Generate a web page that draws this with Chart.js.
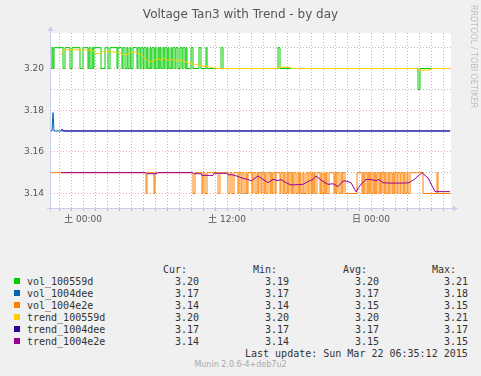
<!DOCTYPE html>
<html>
<head>
<meta charset="utf-8">
<script src="https://cdn.jsdelivr.net/npm/chart.js@4.4.1/dist/chart.umd.min.js"></script>
<style>
html,body{margin:0;padding:0;background:#f0f0f0;}
#wrap{position:relative;width:481px;height:376px;overflow:hidden;background:#f0f0f0;}
#c{position:absolute;left:0;top:0;}
.tx{position:absolute;white-space:pre;}
.mono{font-family:'DejaVu Sans Mono',monospace;font-size:10px;line-height:12px;color:#333;}
#title{left:0;width:481px;top:6px;text-align:center;font-family:'DejaVu Sans';font-size:12px;line-height:16px;color:#555;}
#wm{left:468px;top:5px;writing-mode:vertical-rl;font-family:'DejaVu Sans';font-size:8px;line-height:10px;color:#bdbdbd;}
#foot{left:0;width:481px;text-align:center;top:360px;font-family:'DejaVu Sans';font-size:8px;line-height:10px;color:#aaa;}
.sq{position:absolute;width:6px;height:6px;}
</style>
</head>
<body>
<div id="wrap">
<canvas id="c" width="481" height="240"></canvas>
<div id="title" class="tx">Voltage Tan3 with Trend - by day</div>
<div id="wm" class="tx">RRDTOOL / TOBI OETIKER</div>
<div id="foot" class="tx">Munin 2.0.6-4+deb7u2</div>
</div>
<script>
// time in minutes since Sat 00:00
const xTickValues = [0, 720, 1440];
const xTickLabels = ['土 00:00', '土 12:00', '日 00:00'];
const yTickValues = [3.14, 3.16, 3.18, 3.20];
const yTickLabels = ['3.14', '3.16', '3.18', '3.20'];
const yMinorValues = [3.15, 3.17, 3.19, 3.21];

const seriesNames = ['vol_100559d','vol_1004dee','vol_1004e2e','trend_100559d','trend_1004dee','trend_1004e2e'];
const seriesColors = ['#00cc00','#0066b3','#ff8000','#ffcc00','#330099','#990099'];
const curVals = ['3.20','3.17','3.14','3.20','3.17','3.14'];
const minVals = ['3.19','3.17','3.14','3.20','3.17','3.14'];
const avgVals = ['3.20','3.17','3.15','3.20','3.17','3.15'];
const maxVals = ['3.21','3.18','3.15','3.21','3.17','3.15'];
const lastUpdate = 'Last update: Sun Mar 22 06:35:12 2015';

const vol_100559d = [[-160,3.20],[-155,3.21],[-150,3.20],[-145,3.21],[-100,3.20],[-90,3.21],[-65,3.20],[-55,3.21],[-15,3.20],[0,3.21],[25,3.20],[30,3.21],[35,3.20],[45,3.21],[50,3.20],[55,3.21],[90,3.20],[110,3.21],[125,3.20],[135,3.21],[170,3.20],[175,3.21],[195,3.20],[200,3.21],[210,3.20],[220,3.21],[225,3.20],[235,3.21],[240,3.20],[250,3.21],[270,3.20],[275,3.21],[285,3.20],[290,3.21],[300,3.20],[305,3.21],[315,3.20],[320,3.21],[325,3.20],[335,3.21],[340,3.20],[345,3.21],[355,3.20],[360,3.21],[365,3.20],[375,3.21],[380,3.20],[385,3.21],[390,3.20],[400,3.21],[405,3.20],[410,3.21],[420,3.20],[425,3.21],[430,3.20],[440,3.21],[445,3.20],[450,3.21],[460,3.20],[465,3.21],[475,3.20],[485,3.21],[495,3.20],[500,3.21],[510,3.20],[515,3.21],[520,3.20],[540,3.21],[550,3.20],[580,3.21],[590,3.20],[615,3.21],[620,3.20],[690,3.21],[700,3.20],[975,3.21],[985,3.20],[1675,3.19],[1685,3.20],[1835,3.20]];

const vol_1004dee = [[-160,3.17],[-155,3.17],[-150,3.1788],[-145,3.17],[1835,3.17]];

const vol_1004e2e = [[-160,3.15],[315,3.14],[320,3.15],[355,3.14],[360,3.15],[550,3.14],[560,3.15],[595,3.14],[600,3.15],[610,3.14],[620,3.15],[675,3.14],[685,3.15],[725,3.14],[735,3.15],[745,3.14],[755,3.15],[775,3.14],[780,3.15],[790,3.14],[795,3.15],[805,3.14],[815,3.15],[820,3.14],[825,3.15],[845,3.14],[850,3.15],[860,3.14],[870,3.15],[875,3.14],[880,3.15],[890,3.14],[895,3.15],[905,3.14],[910,3.15],[915,3.14],[925,3.15],[935,3.14],[940,3.15],[945,3.14],[950,3.15],[960,3.14],[965,3.15],[985,3.14],[990,3.15],[1000,3.14],[1005,3.15],[1010,3.14],[1020,3.15],[1025,3.14],[1030,3.15],[1040,3.14],[1045,3.15],[1050,3.14],[1055,3.15],[1065,3.14],[1075,3.15],[1080,3.14],[1085,3.15],[1090,3.14],[1100,3.15],[1105,3.14],[1115,3.15],[1125,3.14],[1130,3.15],[1140,3.14],[1145,3.15],[1150,3.14],[1155,3.15],[1160,3.14],[1170,3.15],[1185,3.14],[1190,3.15],[1195,3.14],[1205,3.15],[1210,3.14],[1215,3.15],[1220,3.14],[1230,3.15],[1255,3.14],[1260,3.15],[1265,3.14],[1270,3.15],[1280,3.14],[1290,3.15],[1295,3.14],[1300,3.15],[1310,3.14],[1370,3.15],[1395,3.14],[1400,3.15],[1405,3.14],[1410,3.15],[1420,3.14],[1425,3.15],[1430,3.14],[1435,3.15],[1440,3.14],[1450,3.15],[1455,3.14],[1460,3.15],[1465,3.14],[1470,3.15],[1480,3.14],[1485,3.15],[1490,3.14],[1495,3.15],[1505,3.14],[1510,3.15],[1515,3.14],[1525,3.15],[1530,3.14],[1535,3.15],[1545,3.14],[1550,3.15],[1555,3.14],[1560,3.15],[1570,3.14],[1575,3.15],[1585,3.14],[1590,3.15],[1600,3.14],[1605,3.15],[1610,3.14],[1620,3.15],[1625,3.14],[1635,3.15],[1700,3.14],[1770,3.15],[1775,3.14],[1835,3.14]];

const trend_100559d = [[-110,3.2065],[-100,3.2085],[-85,3.2090],[-15,3.2090],[-5,3.2085],[10,3.2090],[45,3.2088],[60,3.2075],[80,3.2070],[95,3.2080],[115,3.2083],[145,3.2080],[175,3.2078],[195,3.2068],[220,3.2065],[235,3.2078],[255,3.2080],[275,3.2072],[290,3.2065],[305,3.2055],[320,3.2038],[335,3.2032],[350,3.2036],[365,3.2043],[380,3.2047],[390,3.2040],[400,3.2050],[415,3.2045],[425,3.2038],[440,3.2043],[460,3.2040],[475,3.2037],[490,3.2042],[505,3.2034],[525,3.2028],[545,3.2022],[565,3.2020],[580,3.2015],[595,3.2012],[610,3.2012],[625,3.2010],[640,3.2005],[660,3.2002],[675,3.2000],[970,3.2000],[975,3.2006],[1035,3.2006],[1040,3.2000],[1670,3.2000],[1675,3.1992],[1735,3.1992],[1740,3.2000],[1835,3.2000]];

const trend_1004dee = [[-110,3.1706],[-100,3.1706],[-95,3.1700],[1835,3.1700]];

const trend_1004e2e = [[-110,3.1500],[315,3.1500],[320,3.1495],[370,3.1495],[375,3.1500],[550,3.1500],[555,3.1495],[590,3.1495],[595,3.1487],[650,3.1487],[655,3.1497],[720,3.1497],[725,3.1490],[745,3.1490],[760,3.1486],[775,3.1482],[790,3.1476],[810,3.1470],[825,3.1468],[840,3.1460],[855,3.1470],[875,3.1484],[900,3.1468],[925,3.1452],[950,3.1468],[975,3.1462],[990,3.1467],[1015,3.1452],[1040,3.1441],[1060,3.1442],[1085,3.1443],[1100,3.1444],[1115,3.1452],[1135,3.1462],[1150,3.1467],[1165,3.1484],[1185,3.1468],[1210,3.1452],[1225,3.1444],[1250,3.1447],[1275,3.1433],[1300,3.1460],[1315,3.1460],[1340,3.1452],[1365,3.1408],[1390,3.1445],[1415,3.1467],[1440,3.1467],[1465,3.1462],[1480,3.1467],[1500,3.1452],[1530,3.1450],[1565,3.1450],[1605,3.1450],[1630,3.1452],[1655,3.1467],[1695,3.1500],[1725,3.1475],[1760,3.1409],[1835,3.1409]];

const seriesData = [vol_100559d, vol_1004dee, vol_1004e2e, trend_100559d, trend_1004dee, trend_1004e2e];
const seriesStepped = [true, false, true, false, false, false];

const AXIS_COLOR = '#c9cdee';
const MAJOR_GRID = 'rgba(255,110,110,0.6)';
const MINOR_GRID = 'rgba(140,140,140,0.6)';

const wrap = document.getElementById('wrap');
function addText(txt, left, centerY){
  const d = document.createElement('div');
  d.className = 'tx mono';
  d.textContent = txt;
  d.style.left = left + 'px';
  d.style.top = (centerY - 6) + 'px';
  wrap.appendChild(d);
}
const colLeft = [163, 253, 343, 432];
['Cur:','Min:','Avg:','Max:'].forEach((h,i)=>addText(h, colLeft[i], 269.5));
seriesNames.forEach((n,i)=>{
  const cy = 281.5 + 12*i;
  const sq = document.createElement('div');
  sq.className = 'sq';
  sq.style.left = '14px';
  sq.style.top = (cy - 3.5) + 'px';
  sq.style.background = seriesColors[i];
  wrap.appendChild(sq);
  addText(n, 27, cy);
  [curVals, minVals, avgVals, maxVals].forEach((arr,j)=>addText(arr[i], colLeft[j]+12, cy));
});
addText(lastUpdate, 245, 353.5);

const bgAxes = {
  id: 'bgAxes',
  beforeDraw(chart){
    const {ctx, chartArea:a} = chart;
    ctx.save();
    ctx.fillStyle = '#ffffff';
    ctx.fillRect(a.left, a.top, a.right - a.left, a.bottom - a.top);
    ctx.restore();
  },
  afterDatasetsDraw(chart){
    const {ctx, chartArea:a} = chart;
    ctx.save();
    ctx.strokeStyle = AXIS_COLOR;
    ctx.fillStyle = AXIS_COLOR;
    ctx.lineWidth = 1;
    ctx.beginPath();
    const lx = a.left - 0.5, by = a.bottom + 0.5;
    ctx.moveTo(lx, a.bottom + 4); ctx.lineTo(lx, a.top - 3);
    ctx.moveTo(a.left - 4, by); ctx.lineTo(a.right + 2, by);
    ctx.stroke();
    ctx.beginPath();
    ctx.moveTo(lx, a.top - 7); ctx.lineTo(lx - 3, a.top - 2); ctx.lineTo(lx + 3, a.top - 2); ctx.closePath();
    ctx.fill();
    ctx.beginPath();
    ctx.moveTo(a.right + 7, by); ctx.lineTo(a.right + 2, by - 3); ctx.lineTo(a.right + 2, by + 3); ctx.closePath();
    ctx.fill();
    ctx.restore();
  }
};

const datasets = seriesNames.map((n,i)=>({
  label: n,
  data: seriesData[i].map(p=>({x:p[0], y:p[1]})),
  borderColor: seriesColors[i],
  backgroundColor: seriesColors[i],
  borderWidth: 1,
  pointRadius: 0,
  fill: false,
  tension: 0,
  stepped: seriesStepped[i],
  order: seriesNames.length - i
}));

new Chart(document.getElementById('c'), {
  type: 'line',
  data: { datasets },
  plugins: [bgAxes],
  options: {
    responsive: false,
    animation: false,
    devicePixelRatio: 1,
    events: [],
    layout: { padding: { left: 0, right: 30, top: 33, bottom: 0 } },
    plugins: { legend: { display: false }, tooltip: { enabled: false }, title: { display: false } },
    scales: {
      x: {
        type: 'linear', min: -160, max: 1840,
        afterBuildTicks: s => { const t = []; for (let m = -120; m <= 1800; m += 60) t.push({value: m}); s.ticks = t; },
        afterFit: s => { s.height = 32; },
        ticks: {
          autoSkip: false, maxRotation: 0, padding: 3, color: '#555',
          font: { family: "'DejaVu Sans', 'Noto Sans CJK JP'", size: 9 },
          callback: v => { const i = xTickValues.indexOf(v); return i >= 0 ? xTickLabels[i] : ''; }
        },
        grid: {
          color: c => (c.tick && c.tick.value % 360 === 0) ? MAJOR_GRID : MINOR_GRID,
          tickColor: c => (c.tick && c.tick.value % 360 === 0) ? MAJOR_GRID : MINOR_GRID,
          tickLength: 3, lineWidth: 1
        },
        border: { display: false, dash: [1, 2] }
      },
      y: {
        type: 'linear', min: 3.13304, max: 3.21704,
        afterBuildTicks: s => { s.ticks = yTickValues.concat(yMinorValues).sort((a,b)=>a-b).map(v=>({value:v})); },
        afterFit: s => { s.width = 51; },
        ticks: {
          padding: 7, color: '#555',
          font: { family: "'DejaVu Sans'", size: 9 },
          callback: v => { const i = yTickValues.findIndex(t => Math.abs(t - v) < 1e-6); return i >= 0 ? yTickLabels[i] : ''; }
        },
        grid: {
          color: c => (c.tick && yTickValues.some(t => Math.abs(t - c.tick.value) < 1e-6)) ? MAJOR_GRID : MINOR_GRID,
          drawTicks: false, lineWidth: 1
        },
        border: { display: false, dash: [1, 2] }
      }
    }
  }
});
</script>
</body>
</html>
